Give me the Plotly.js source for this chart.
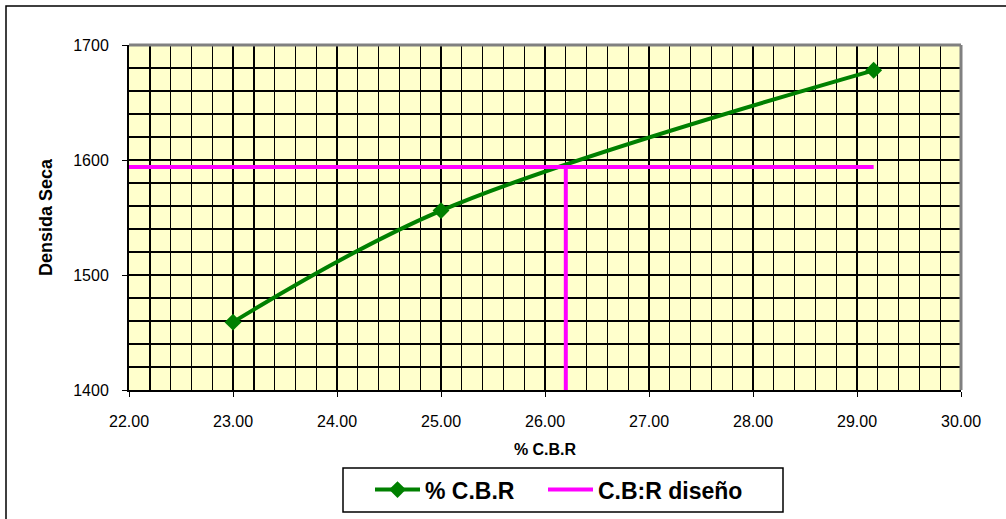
<!DOCTYPE html>
<html>
<head>
<meta charset="utf-8">
<script src="https://cdn.plot.ly/plotly-3.0.1.min.js"></script>
<style>
  html, body { margin: 0; padding: 0; background: #fff; }
  #chart { width: 1006px; height: 519px; }
</style>
</head>
<body>
<div id="chart"></div>
<script>
// Data
const cbrValues = [23.00, 25.00, 29.16];
const densityValues = [1459, 1556, 1678];
const designCBR = 26.2;
const designDensity = 1594;
const xRange = [22, 30];
const yRange = [1400, 1700];
const seriesNames = ['% C.B.R', 'C.B:R diseño'];

const designX = [xRange[0], cbrValues[cbrValues.length - 1], null, designCBR, designCBR];
const designY = [designDensity, designDensity, null, designDensity, yRange[0]];

const traces = [
  {
    x: cbrValues, y: densityValues, name: seriesNames[0],
    type: 'scatter', mode: 'lines+markers',
    line: { color: '#008000', width: 4, shape: 'spline' },
    marker: { symbol: 'diamond', size: 13, color: '#008000' },
    legend: 'legend'
  },
  {
    x: designX, y: designY, name: seriesNames[1],
    type: 'scatter', mode: 'lines',
    line: { color: '#FF00FF', width: 4 },
    legend: 'legend2'
  }
];

// plot area: 129..961 px wide (832), 45..390 px tall (345)
const px = v => (v - 129) / 832;
const py = v => (390 - v) / 345;

const legendFont = { size: 23, color: '#000', family: 'Arial, Liberation Sans, sans-serif', weight: 'bold' };
const legendBase = {
  orientation: 'h', xanchor: 'left',
  yref: 'container', y: 0.098, yanchor: 'top',
  borderwidth: 0, bgcolor: 'rgba(0,0,0,0)',
  font: legendFont, itemwidth: 45
};

const layout = {
  width: 1006, height: 519,
  margin: { l: 129, r: 45, t: 45, b: 129 },
  paper_bgcolor: '#ffffff',
  plot_bgcolor: '#FFFFCC',
  font: { family: 'Arial, Liberation Sans, sans-serif', size: 16, color: '#000' },
  showlegend: true,
  legend: Object.assign({}, legendBase, { x: px(370) }),
  legend2: Object.assign({}, legendBase, { x: px(543) }),
  xaxis: {
    range: xRange, dtick: 1, tick0: 22, tickformat: '.2f',
    showgrid: true, gridcolor: '#000', gridwidth: 1.4,
    minor: { dtick: 0.2, showgrid: true, gridcolor: '#000', gridwidth: 1.4 },
    showline: true, linecolor: '#000', linewidth: 2,
    ticks: 'outside', ticklen: 5, tickcolor: '#000',
    ticklabelstandoff: 11,
    zeroline: false, fixedrange: true, automargin: false,
    tickfont: { size: 16 },
    title: { text: '<b>% C.B.R</b>', font: { size: 16 }, standoff: 15 }
  },
  yaxis: {
    range: yRange, dtick: 100, tick0: 1400,
    showgrid: true, gridcolor: '#000', gridwidth: 1.4,
    minor: { dtick: 20, showgrid: true, gridcolor: '#000', gridwidth: 1.4 },
    showline: true, linecolor: '#000', linewidth: 2,
    ticks: 'outside', ticklen: 5, tickcolor: '#000',
    ticklabelstandoff: 10,
    zeroline: false, fixedrange: true, automargin: false,
    tickfont: { size: 16 },
    title: { text: '<b>Densida Seca</b>', font: { size: 18 }, standoff: 16 }
  },
  shapes: [
    { type: 'line', xref: 'paper', yref: 'paper', x0: 0, x1: 1, y0: 1, y1: 1,
      line: { color: '#808080', width: 3 }, layer: 'above' },
    { type: 'line', xref: 'paper', yref: 'paper', x0: 1, x1: 1, y0: 0, y1: 1,
      line: { color: '#808080', width: 3 }, layer: 'above' },
    { type: 'rect', xref: 'paper', yref: 'paper',
      x0: px(6), x1: 1.2, y0: -0.5, y1: py(6),
      line: { color: '#000', width: 1.5 }, fillcolor: 'rgba(0,0,0,0)', layer: 'below' },
    { type: 'rect', xref: 'paper', yref: 'paper',
      x0: px(343), x1: px(783), y0: py(512), y1: py(468),
      line: { color: '#000', width: 1.5 }, fillcolor: '#ffffff', layer: 'below' }
  ]
};

Plotly.newPlot('chart', traces, layout, { displayModeBar: false, staticPlot: true });
</script>
</body>
</html>
